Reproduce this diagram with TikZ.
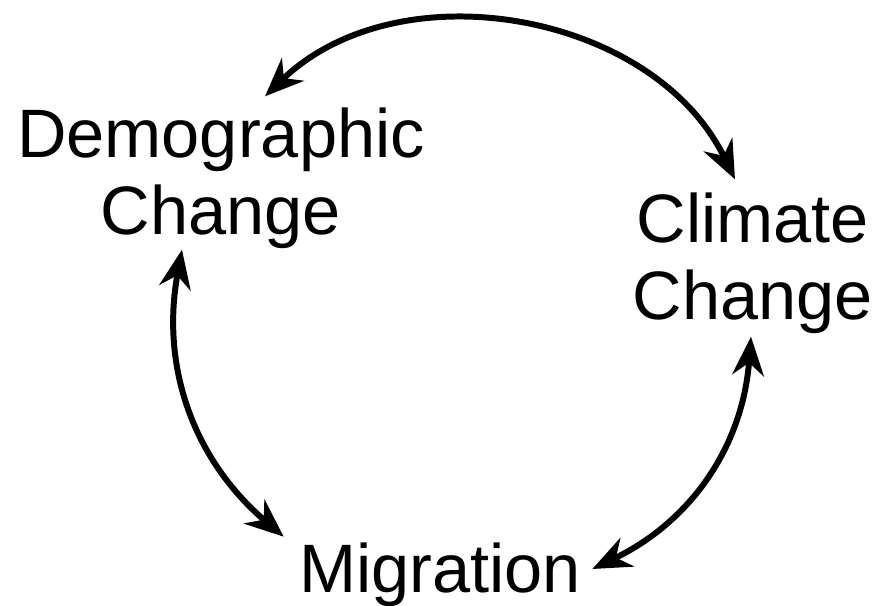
\documentclass[tikz,border=0pt]{standalone}
\usepackage{fontspec}
\setmainfont{Liberation Sans}
\usetikzlibrary{arrows.meta}
\begin{document}
\begin{tikzpicture}[thick,
	lbl/.style={align=center, inner sep=0pt, font=\fontsize{19.5}{21.8}\selectfont},
	cyc/.style={line width=1.7pt, {Stealth[length=11pt,width=9pt]}-{Stealth[length=11pt,width=9pt]}}]
			\useasboundingbox (0,0) rectangle (8.79,6.05);
			%labels
			\node[lbl] (demo) at (2.21, 4.27){Demographic\\Change};
			\node[lbl] (clim) at (7.53, 3.42){Climate\\Change};
			\node[lbl] (migr) at (4.40, 0.30){Migration};
			
			%cycle arrows
			\draw[cyc] ([shift={(0.44,0.10)}]demo.north) to[bend left=54] ([shift={(-0.18,0.12)}]clim.north);
			\draw[cyc] ([shift={(-0.39,0)}]demo.south) to[bend right=30] ([shift={(-0.14,0.05)}]migr.north west);
			\draw[cyc] ([shift={(-0.02,-0.02)}]clim.south) to[bend left=30] ([shift={(0.10,0.06)}]migr.east);
		\end{tikzpicture}
\end{document}
